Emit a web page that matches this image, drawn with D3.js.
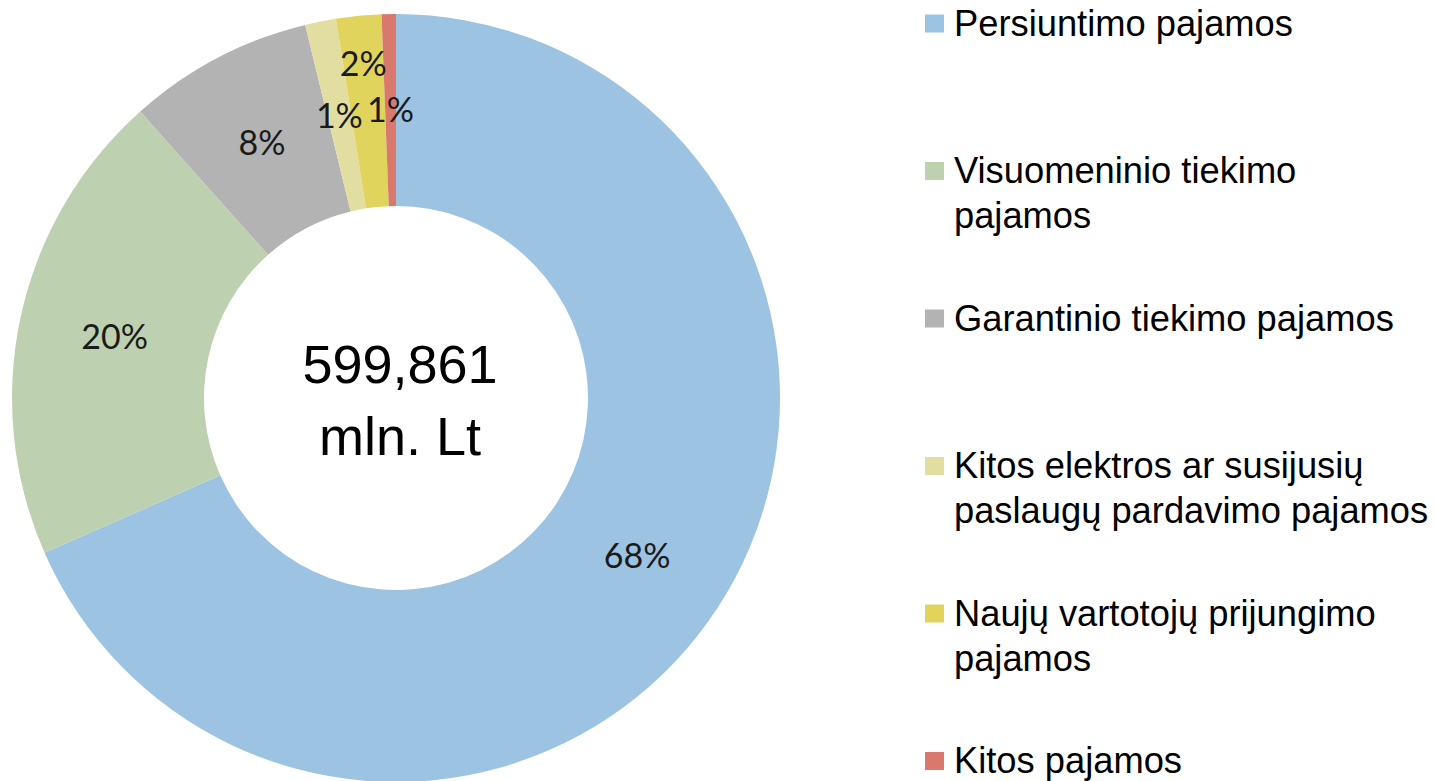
<!DOCTYPE html>
<html>
<head>
<meta charset="utf-8">
<script src="https://cdn.jsdelivr.net/npm/d3@7"></script>
<style>
  body { margin: 0; background: #fff; }
  svg { display: block; }
</style>
</head>
<body>
<svg id="chart"></svg>
<script>
// revenue structure, share of total (%)
const categories = [
  "Persiuntimo pajamos",
  "Visuomeninio tiekimo pajamos",
  "Garantinio tiekimo pajamos",
  "Kitos elektros ar susijusių paslaugų pardavimo pajamos",
  "Naujų vartotojų prijungimo pajamos",
  "Kitos pajamos"
];
const values = [68.4, 20.0, 7.8, 1.3, 1.9, 0.6];
const colors = ["#9dc3e2", "#bdd1b1", "#b3b3b3", "#e2dda1", "#e1d45d", "#d9786d"];
// legend text as it wraps in the original
const legendLines = [
  ["Persiuntimo pajamos"],
  ["Visuomeninio tiekimo", "pajamos"],
  ["Garantinio tiekimo pajamos"],
  ["Kitos elektros ar susijusių", "paslaugų pardavimo pajamos"],
  ["Naujų vartotojų prijungimo", "pajamos"],
  ["Kitos pajamos"]
];
const centerLines = ["599,861", "mln. Lt"];

const width = 1435, height = 781;
const cx = 396, cy = 398, outerR = 384, innerR = 192;

const svg = d3.select("#chart")
  .attr("width", width)
  .attr("height", height);

const data = categories.map((c, i) => ({ name: c, value: values[i], color: colors[i] }));
const total = d3.sum(values);

const pie = d3.pie().value(d => d.value).sort(null);
const arc = d3.arc().innerRadius(innerR).outerRadius(outerR);

const g = svg.append("g").attr("transform", "translate(" + cx + "," + cy + ")");

const arcs = pie(data);

g.selectAll(".slice")
  .data(arcs)
  .enter()
  .append("path")
  .attr("class", "slice")
  .attr("d", arc)
  .attr("fill", d => d.data.color);

// labels at ring centroid; the 2% one is pushed outwards like in the original
const fmt = d3.format(".0%");
g.selectAll(".lbl")
  .data(arcs)
  .enter()
  .append("text")
  .attr("class", "lbl")
  .attr("transform", (d, i) => {
    const r = i === 4 ? 336 : (innerR + outerR) / 2;
    const a = (d.startAngle + d.endAngle) / 2;
    return "translate(" + (r * Math.sin(a)) + "," + (-r * Math.cos(a)) + ")";
  })
  .attr("text-anchor", "middle")
  .attr("dy", "0.36em")
  .style("font-family", "Lato, 'Open Sans', sans-serif")
  .style("font-size", "34px")
  .attr("fill", "#1a1a1a")
  .text(d => fmt(d.data.value / total));

// total in the hole
g.selectAll(".center")
  .data(centerLines)
  .enter()
  .append("text")
  .attr("class", "center")
  .attr("x", 4)
  .attr("y", (d, i) => -15 + i * 72)
  .attr("text-anchor", "middle")
  .style("font-family", "'Liberation Sans', Arial, sans-serif")
  .style("font-size", "54px")
  .attr("fill", "#000")
  .text(d => d);

// legend
const legend = svg.append("g").attr("class", "legend");
const itemY = d3.scaleLinear().domain([0, categories.length - 1]).range([23.5, 761]);

const item = legend.selectAll(".item")
  .data(data)
  .enter()
  .append("g")
  .attr("class", "item")
  .attr("transform", (d, i) => "translate(925," + itemY(i) + ")");

item.append("rect")
  .attr("x", 0)
  .attr("y", -9)
  .attr("width", 19)
  .attr("height", 18)
  .attr("fill", d => d.color);

item.each(function (d, i) {
  d3.select(this).selectAll("text")
    .data(legendLines[i])
    .enter()
    .append("text")
    .attr("x", 29)
    .attr("y", (t, j) => 12 + j * 45)
    .style("font-family", "'Liberation Sans', Arial, sans-serif")
    .style("font-size", "36.3px")
    .attr("fill", "#000")
    .text(t => t);
});
</script>
</body>
</html>
